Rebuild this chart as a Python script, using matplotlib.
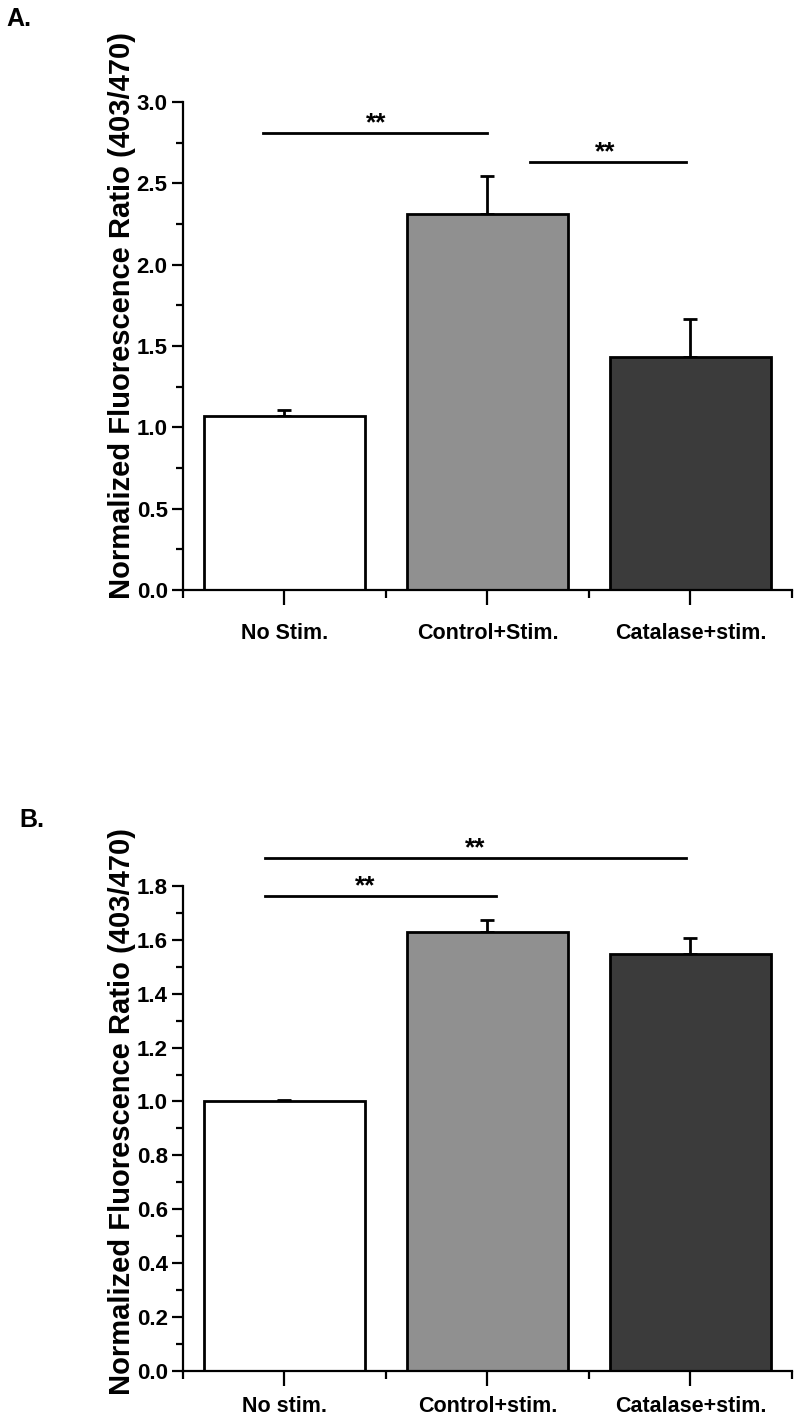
import matplotlib
matplotlib.use("Agg")
import matplotlib.pyplot as plt
from matplotlib.ticker import MultipleLocator

plt.rcParams['font.family'] = ['Liberation Sans', 'DejaVu Sans']
plt.rcParams['font.weight'] = 'bold'

# panel A
labels_a = ["No Stim.", "Control+Stim.", "Catalase+stim."]
means_a = [1.07, 2.31, 1.43]
errs_a = [0.035, 0.235, 0.235]
# panel B
labels_b = ["No stim.", "Control+stim.", "Catalase+stim."]
means_b = [1.0, 1.63, 1.548]
errs_b = [0.006, 0.042, 0.057]

colors = ["#ffffff", "#909090", "#3b3b3b"]
ylabel = "Normalized Fluorescence Ratio (403/470)"

# significance brackets: (x start, x end, y, star x)
sig_a = [(0.894, 1.998, 2.81, 1.45), (2.21, 2.98, 2.63, 2.58)]
sig_b = [(0.904, 2.978, 1.904, 1.94), (0.904, 2.04, 1.763, 1.40)]


def draw_panel(ax, labels, means, errs, ymax, major, sig, label_y, xpad):
    pos = [1, 2, 3]
    ax.bar(pos, means, width=0.79, color=colors, edgecolor="black",
           linewidth=2.0, zorder=2)
    ax.errorbar(pos, means, yerr=[[0, 0, 0], errs], fmt="none",
                ecolor="black", elinewidth=2.0, capsize=5, capthick=2.0,
                zorder=1)
    ax.set_xlim(0.5, 3.5)
    ax.set_ylim(0, ymax)
    ax.set_xticks(pos)
    ax.set_xticklabels(labels, fontsize=15.5, fontweight="bold")
    ax.set_xticks([0.5, 1.5, 2.5, 3.5], minor=True)
    ax.yaxis.set_major_locator(MultipleLocator(major))
    ax.yaxis.set_minor_locator(MultipleLocator(major / 2))
    ax.yaxis.set_major_formatter(plt.FormatStrFormatter("%.1f"))
    for t in ax.get_yticklabels():
        t.set_fontsize(16)
        t.set_fontweight("bold")
    ax.tick_params(axis="x", which="major", length=11, width=1.6, pad=xpad)
    ax.tick_params(axis="x", which="minor", length=6, width=1.6)
    ax.tick_params(axis="y", which="major", length=8, width=1.6, pad=3)
    ax.tick_params(axis="y", which="minor", length=5, width=1.6)
    for s in ["top", "right"]:
        ax.spines[s].set_visible(False)
    for s in ["left", "bottom"]:
        ax.spines[s].set_linewidth(1.6)
    ax.set_ylabel(ylabel, fontsize=21, fontweight="bold")
    ax.yaxis.set_label_coords(-0.078, label_y)
    for x0, x1, y, xs in sig:
        ax.plot([x0, x1], [y, y], color="black", linewidth=2.0,
                clip_on=False)
        ax.text(xs, y - ymax * 0.004, "**", ha="center", va="bottom",
                fontsize=19, fontweight="bold", clip_on=False)


fig = plt.figure(figsize=(7.96, 14.17), dpi=100)
ax_a = fig.add_axes([0.2299, 0.5836, 0.765, 0.3444])
ax_b = fig.add_axes([0.2299, 0.0325, 0.765, 0.3423])

draw_panel(ax_a, labels_a, means_a, errs_a, 3.0, 0.5, sig_a, 0.563, 13)
draw_panel(ax_b, labels_b, means_b, errs_b, 1.8, 0.2, sig_b, 0.534, 7)

fig.text(0.008, 0.9865, "A.", fontsize=18, fontweight="bold", va="center")
fig.text(0.024, 0.4215, "B.", fontsize=18, fontweight="bold", va="center")

fig.savefig("out.png", dpi=100)
